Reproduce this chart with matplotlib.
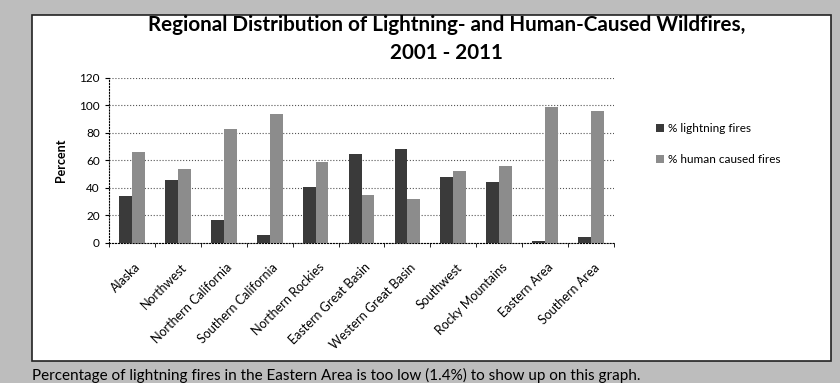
import numpy as np
import matplotlib.pyplot as plt
from matplotlib.patches import Rectangle

plt.rcParams['font.family'] = ['Lato', 'DejaVu Sans']

# Data
regions = ['Alaska', 'Northwest', 'Northern California', 'Southern California',
           'Northern Rockies', 'Eastern Great Basin', 'Western Great Basin',
           'Southwest', 'Rocky Mountains', 'Eastern Area', 'Southern Area']
lightning = [34, 46, 17, 6, 41, 65, 68, 48, 44, 1.4, 4]
human = [66, 54, 83, 94, 59, 35, 32, 52, 56, 98.6, 96]

fig = plt.figure(figsize=(8.4, 3.83), dpi=100)
fig.patch.set_facecolor('#bdbdbd')

# White chart box
box = Rectangle((32 / 840, 1 - 361 / 383), (831 - 32) / 840, (361 - 15) / 383,
                transform=fig.transFigure, facecolor='white', edgecolor='#222222',
                linewidth=1.2, zorder=0)
fig.patches.append(box)

ax = fig.add_axes([109 / 840, 1 - 243 / 383, (614 - 109) / 840, (243 - 78) / 383])
ax.set_zorder(2)
ax.set_facecolor('white')

x = np.arange(len(regions))
w = 0.28
ax.bar(x - w / 2, lightning, w, color='#3a3a3a', label='% lightning fires', zorder=3)
ax.bar(x + w / 2, human, w, color='#8c8c8c', label='% human caused fires', zorder=3)

ax.set_xlim(-0.5, len(regions) - 0.5)
ax.set_ylim(0, 120)
ax.set_yticks(range(0, 121, 20))
ax.yaxis.grid(True, linestyle=':', color='#555555', linewidth=0.8, zorder=0)
ax.set_xticks(np.arange(len(regions) + 1) - 0.5, minor=True)
ax.set_xticks(x + 0.05)
ax.set_xticklabels(regions, rotation=45, ha='right', rotation_mode='anchor', fontsize=9)
ax.tick_params(axis='y', labelsize=8.5, length=3)
ax.tick_params(axis='x', which='major', length=0, pad=13)
ax.tick_params(axis='x', which='minor', length=3)
for s in ['top', 'right']:
    ax.spines[s].set_visible(False)
ax.spines['left'].set_linestyle(':')
ax.spines['bottom'].set_linestyle(':')

ax.set_ylabel('Percent', fontsize=9, fontweight='bold', labelpad=9)

fig.text(0.532, 0.898, 'Regional Distribution of Lightning- and Human-Caused Wildfires,\n2001 - 2011',
         ha='center', va='center', fontsize=14.9, fontweight='bold', linespacing=1.45)

ax.legend(loc='upper left', bbox_to_anchor=(1.063, 0.79), frameon=False, fontsize=8.5,
          handlelength=0.6, handleheight=0.6, handletextpad=0.4, labelspacing=1.7)

fig.text(32 / 840, 1 - 375 / 383, 'Percentage of lightning fires in the Eastern Area is too low (1.4%) to show up on this graph.',
         ha='left', va='center', fontsize=11)

plt.savefig('out.png', dpi=100, facecolor=fig.get_facecolor())
